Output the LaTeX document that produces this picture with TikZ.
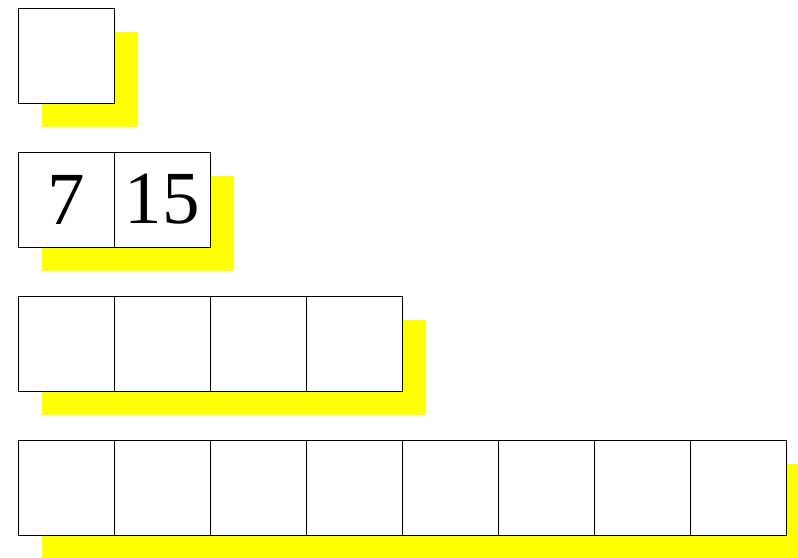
\documentclass[tikz,border=0pt]{standalone}
\usepackage{fontspec}
\setmainfont{Liberation Serif}
\definecolor{shadowyellow}{RGB}{255,255,0}
\begin{document}
\begin{tikzpicture}[x=1pt,y=-1pt,
  cell/.style={draw=black,fill=white,line width=0.9pt,minimum width=96pt,minimum height=95pt,inner sep=0pt,outer sep=0pt,anchor=north west,font=\fontsize{75}{75}\selectfont},
  shade/.style={fill=shadowyellow,draw=none}]
\useasboundingbox (0,0) rectangle (798,557);
% shadows
\fill[shade] (42,32) rectangle (138,127);
\fill[shade] (42,176) rectangle (234,271);
\fill[shade] (42,320) rectangle (426,415);
\fill[shade] (42,464) rectangle (810,570);
% row 1
\node[cell] (r1c1) at (18,8) {};
% row 2
\node[cell] (r2c1) at (18,152) {7};
\node[cell] (r2c2) at (114,152) {15};
% row 3
\foreach \i in {0,...,3} {\node[cell] (r3c\i) at (18+96*\i,296) {};}
% row 4
\foreach \i in {0,...,7} {\node[cell] (r4c\i) at (18+96*\i,440) {};}
\end{tikzpicture}
\end{document}
